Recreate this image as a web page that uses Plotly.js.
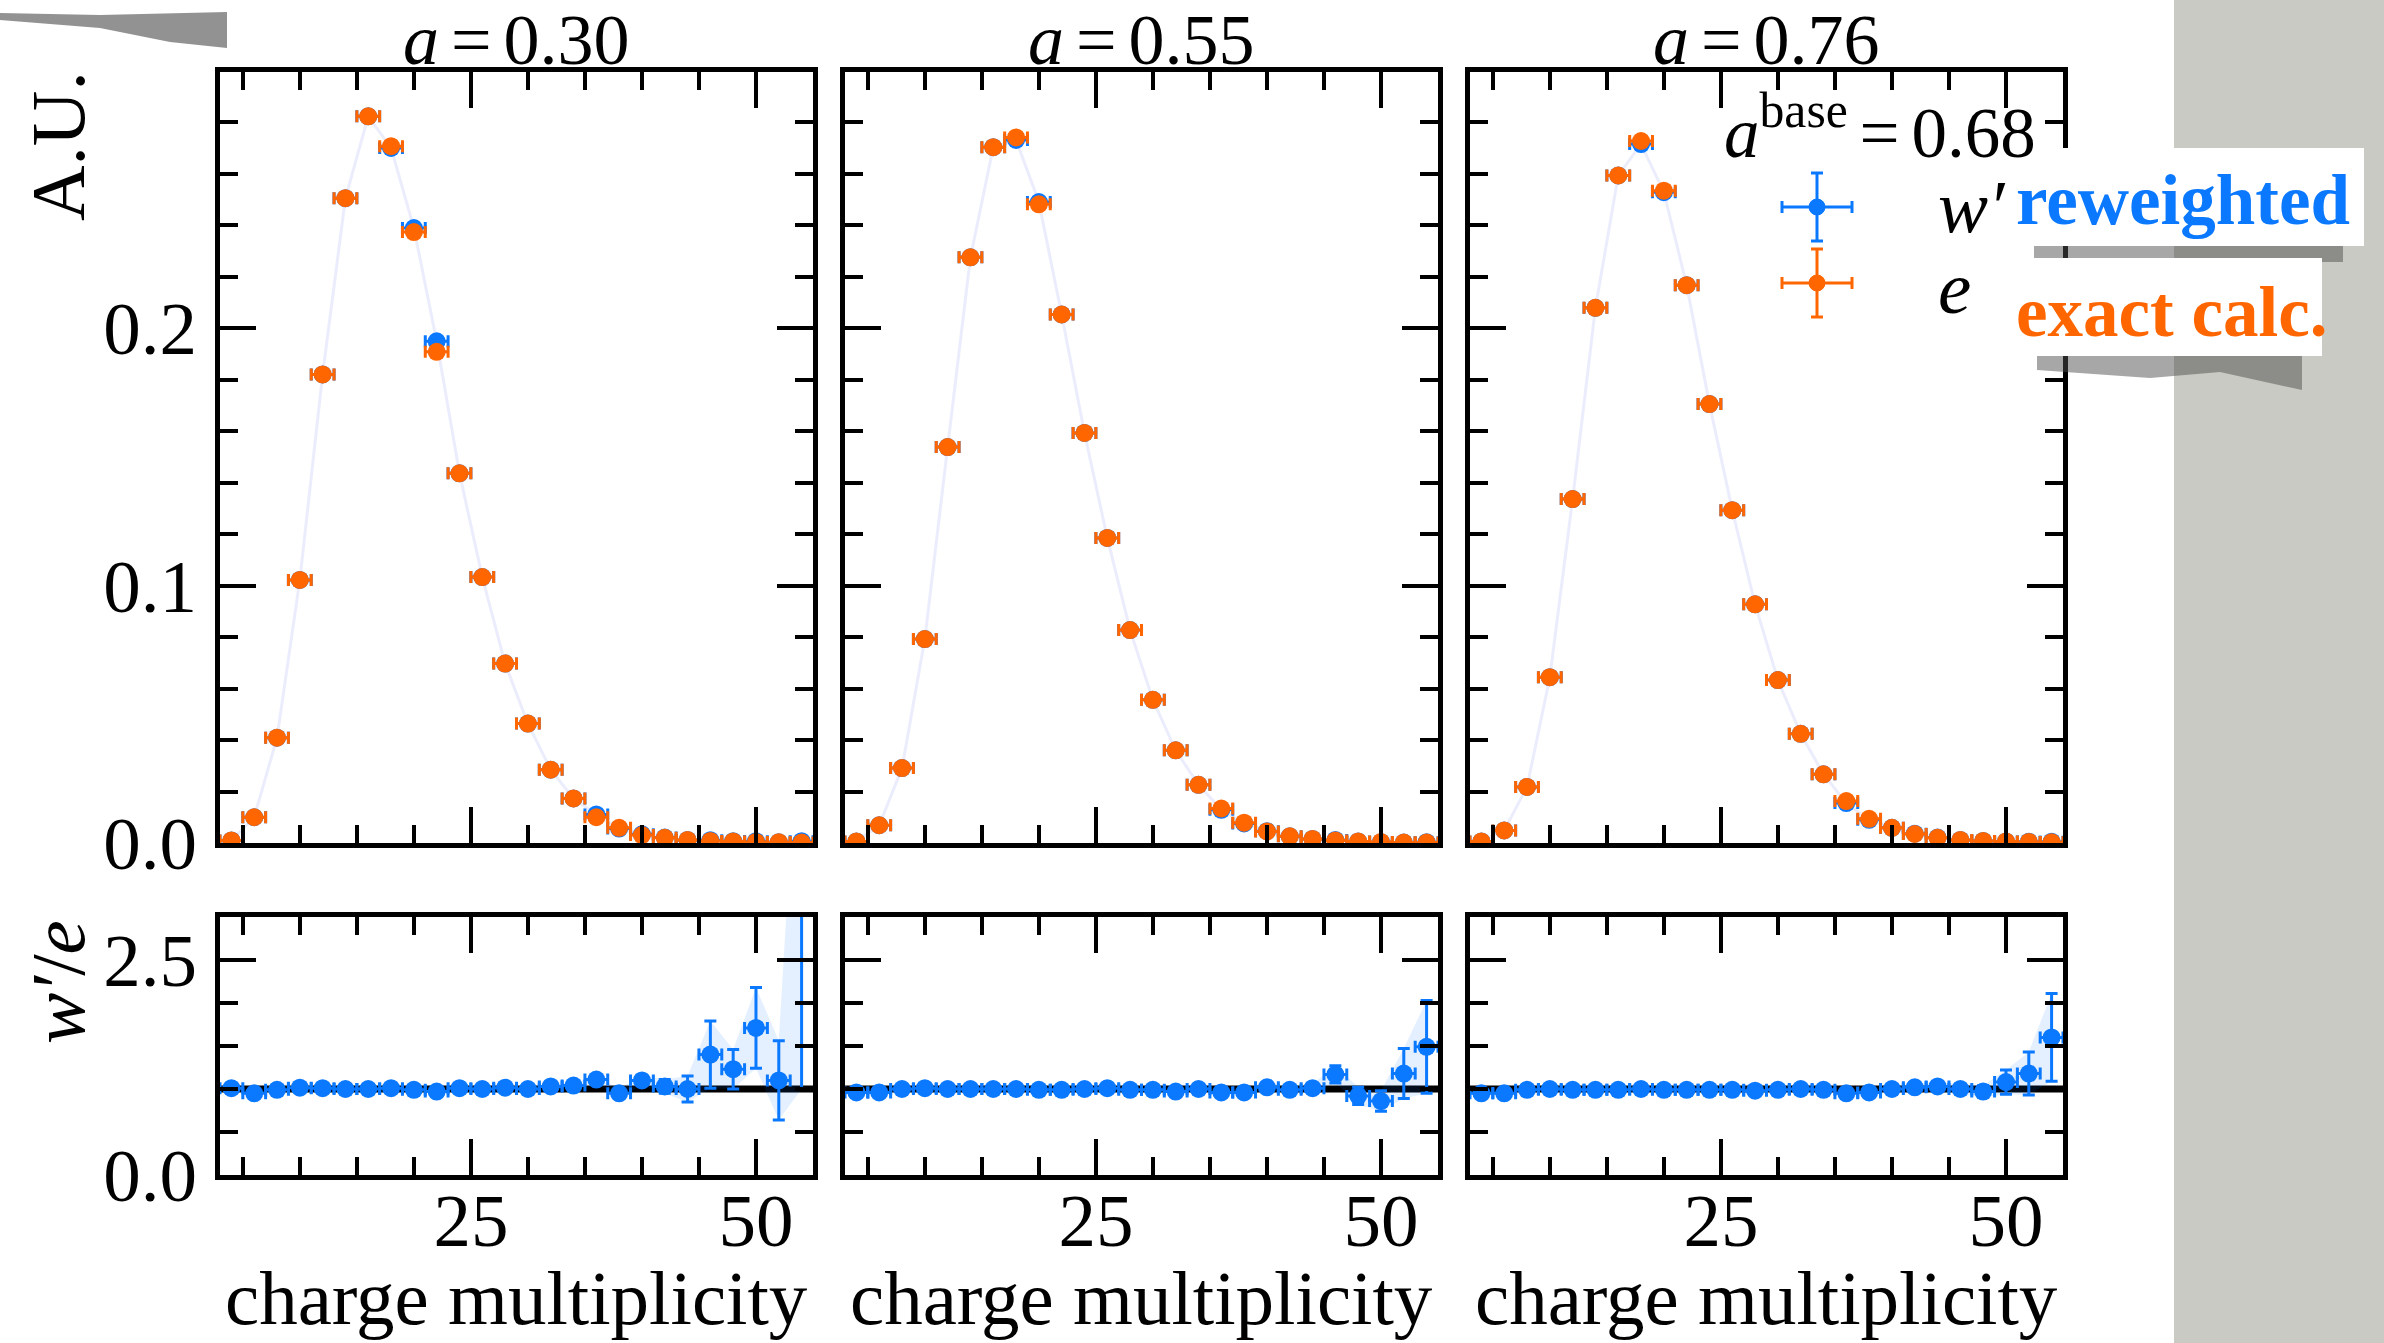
<!DOCTYPE html>
<html>
<head>
<meta charset="utf-8">
<script src="https://cdn.plot.ly/plotly-3.0.1.min.js"></script>
<style>
  html, body { margin: 0; padding: 0; background: #ffffff; }
  #chart { width: 2384px; height: 1343px; }
</style>
</head>
<body>
<div id="chart"></div>
<script>
// ---------------- data ----------------
const multiplicity = [4,6,8,10,12,14,16,18,20,22,24,26,28,30,32,34,36,38,40,42,44,46,48,50,52,54];
const binHalfWidth = 1;

const panelTitles = ["0.30", "0.55", "0.76"];
const baseValue = "0.68";

// exact calculation e
const exact030 = [0.001,0.010,0.0409,0.1022,0.182,0.2505,0.2823,0.2707,0.2373,0.1908,0.1436,0.1033,0.0697,0.0464,0.0285,0.0173,0.010,0.0059,0.0031,0.002,0.0012,0.0008,0.0006,0.0004,0.0003,0.0002];
const exact055 = [0.0006,0.0069,0.0291,0.0792,0.1538,0.2275,0.2703,0.2741,0.2481,0.2053,0.1593,0.1185,0.0827,0.0556,0.036,0.0226,0.0134,0.0079,0.0045,0.0026,0.0016,0.001,0.0006,0.0004,0.0002,0.0002];
const exact076 = [0.0006,0.0049,0.0218,0.0644,0.1336,0.2079,0.2593,0.2727,0.2534,0.2167,0.1705,0.1293,0.0927,0.0633,0.0424,0.0267,0.0163,0.0094,0.0059,0.0035,0.002,0.0012,0.0008,0.0006,0.0004,0.0003];

// reweighted w'
const rew030 = [0.001,0.010,0.0409,0.1022,0.182,0.2505,0.2823,0.2700,0.2389,0.1949,0.1436,0.1033,0.0697,0.0464,0.0285,0.0173,0.0111,0.0056,0.0034,0.0021,0.0012,0.0011,0.0007,0.0007,0.0003,0.0007];
const rew055 = [0.0006,0.0069,0.0291,0.0792,0.1538,0.2275,0.2703,0.2731,0.2490,0.2053,0.1593,0.1185,0.0827,0.0556,0.036,0.0226,0.0129,0.0076,0.0046,0.0026,0.0016,0.0012,0.0006,0.0003,0.0002,0.0003];
const rew076 = [0.0006,0.0049,0.0218,0.0644,0.1336,0.2079,0.2593,0.2715,0.2528,0.2167,0.1705,0.1293,0.0927,0.0633,0.0424,0.0267,0.0155,0.0090,0.0059,0.0036,0.0021,0.0012,0.0008,0.0006,0.0005,0.0005];

// ratio w'/e and its uncertainty
const ratio030 = [1.01,0.95,0.99,1.015,1.01,1.0,1.0,1.01,0.99,0.97,1.01,1.0,1.015,1.0,1.03,1.04,1.11,0.95,1.10,1.03,1.0,1.40,1.23,1.71,1.10,3.5];
const ratioErr030 = [0.03,0.02,0.015,0.01,0.01,0.01,0.01,0.01,0.01,0.01,0.01,0.01,0.015,0.02,0.025,0.03,0.05,0.05,0.06,0.08,0.15,0.39,0.23,0.47,0.46,2.5];
const ratio055 = [0.96,0.96,1.0,1.01,1.0,1.0,1.0,1.0,0.99,0.99,1.0,1.01,0.99,0.99,0.97,1.0,0.96,0.96,1.02,0.99,1.01,1.17,0.92,0.86,1.18,1.49];
const ratioErr055 = [0.03,0.02,0.015,0.01,0.01,0.01,0.01,0.01,0.01,0.01,0.01,0.01,0.01,0.015,0.02,0.02,0.025,0.03,0.03,0.04,0.05,0.10,0.10,0.12,0.29,0.54];
const ratio076 = [0.95,0.95,0.99,1.0,0.99,0.99,0.99,1.0,0.99,0.99,0.99,0.99,0.98,0.99,1.0,0.99,0.95,0.96,1.0,1.02,1.03,1.0,0.97,1.08,1.18,1.60];
const ratioErr076 = [0.03,0.02,0.015,0.01,0.01,0.01,0.01,0.01,0.01,0.01,0.01,0.01,0.01,0.015,0.02,0.02,0.025,0.03,0.03,0.04,0.05,0.06,0.07,0.14,0.25,0.51];

const xTickLabels = ["25", "50"];
const labelW = "reweighted";
const labelE = "exact calc.";

// ---------------- styling / layout ----------------
const W = 2384, H = 1343;
const BLUE = "#0a78ff", ORANGE = "#ff6600";
const FONT = "Liberation Serif, Times New Roman, serif";
const FS = 75;
const px = v => v / W;
const py = v => 1 - v / H;
const EQ = "\u2006=\u2006";

const panelLeft = [220, 845, 1470];
const panelWidth = 593;
const topY = [72, 843];
const botY = [917, 1175];

const exactSets = [exact030, exact055, exact076];
const rewSets = [rew030, rew055, rew076];
const ratioSets = [ratio030, ratio055, ratio076];
const ratioErrSets = [ratioErr030, ratioErr055, ratioErr076];

const traces = [];
const layout = {
  width: W, height: H,
  margin: {l: 0, r: 0, t: 0, b: 0},
  paper_bgcolor: "#ffffff",
  plot_bgcolor: "rgba(0,0,0,0)",
  showlegend: false,
  font: {family: FONT, size: FS, color: "#000"},
  shapes: [], annotations: []
};

function axisBase() {
  return {
    showline: true, linewidth: 5, linecolor: "#000", mirror: "allticks",
    ticks: "inside", ticklen: 36, tickwidth: 4, tickcolor: "#000",
    showgrid: false, zeroline: false, fixedrange: true,
    tickfont: {family: FONT, size: FS, color: "#000"}
  };
}

const hx = Array(multiplicity.length).fill(binHalfWidth);

for (let p = 0; p < 3; p++) {
  const nTop = 2 * p + 1, nBot = 2 * p + 2;
  const xa = "x" + (nTop === 1 ? "" : nTop), ya = "y" + (nTop === 1 ? "" : nTop);
  const xb = "x" + nBot, yb = "y" + nBot;
  const dom = [px(panelLeft[p]), px(panelLeft[p] + panelWidth)];

  const xTop = Object.assign(axisBase(), {
    domain: dom, range: [3, 55], anchor: ya, tick0: 0, dtick: 25,
    showticklabels: false,
    minor: {ticks: "inside", ticklen: 18, tickwidth: 4, tickcolor: "#000", dtick: 5, tick0: 0, showgrid: false}
  });
  const yTop = Object.assign(axisBase(), {
    domain: [py(topY[1]), py(topY[0])], range: [0, 0.2995], anchor: xa,
    tick0: 0, dtick: 0.1, tickformat: ".1f", showticklabels: p === 0, ticklabelstandoff: 3,
    minor: {ticks: "inside", ticklen: 18, tickwidth: 4, tickcolor: "#000", dtick: 0.02, tick0: 0, showgrid: false}
  });
  const xBot = Object.assign(axisBase(), {
    domain: dom, range: [3, 55], anchor: yb, tickvals: [25, 50], ticktext: xTickLabels,
    showticklabels: true, ticklabelstandoff: -24,
    minor: {ticks: "inside", ticklen: 18, tickwidth: 4, tickcolor: "#000", dtick: 5, tick0: 0, showgrid: false}
  });
  const yBot = Object.assign(axisBase(), {
    domain: [py(botY[1]), py(botY[0])], range: [0, 3], anchor: xb,
    tick0: 0, dtick: 2.5, tickformat: ".1f", showticklabels: p === 0, ticklabelstandoff: 3,
    minor: {ticks: "inside", ticklen: 18, tickwidth: 4, tickcolor: "#000", dtick: 0.5, tick0: 0, showgrid: false}
  });
  layout["xaxis" + (nTop === 1 ? "" : nTop)] = xTop;
  layout["yaxis" + (nTop === 1 ? "" : nTop)] = yTop;
  layout["xaxis" + nBot] = xBot;
  layout["yaxis" + nBot] = yBot;

  // top: faint connecting line of w'
  traces.push({x: multiplicity, y: rewSets[p], xaxis: xa, yaxis: ya, mode: "lines",
    line: {color: "rgba(90,110,230,0.12)", width: 3}, hoverinfo: "skip"});
  // top: w' points
  traces.push({x: multiplicity, y: rewSets[p], xaxis: xa, yaxis: ya, mode: "markers",
    marker: {color: BLUE, size: 18},
    error_x: {type: "data", array: hx, color: BLUE, thickness: 3, width: 6}});
  // top: e points
  traces.push({x: multiplicity, y: exactSets[p], xaxis: xa, yaxis: ya, mode: "markers",
    marker: {color: ORANGE, size: 18},
    error_x: {type: "data", array: hx, color: ORANGE, thickness: 3, width: 6}});

  // bottom: band of ratio uncertainty
  const r = ratioSets[p], re = ratioErrSets[p];
  traces.push({x: multiplicity, y: r.map((v, i) => v - re[i]), xaxis: xb, yaxis: yb, mode: "lines",
    line: {width: 0, color: "rgba(0,0,0,0)"}, hoverinfo: "skip"});
  traces.push({x: multiplicity, y: r.map((v, i) => v + re[i]), xaxis: xb, yaxis: yb, mode: "lines",
    line: {width: 0, color: "rgba(0,0,0,0)"}, fill: "tonexty", fillcolor: "rgba(10,120,255,0.11)", hoverinfo: "skip"});
  // bottom: ratio points
  traces.push({x: multiplicity, y: r, xaxis: xb, yaxis: yb, mode: "markers",
    marker: {color: BLUE, size: 18},
    error_x: {type: "data", array: hx, color: BLUE, thickness: 3, width: 6},
    error_y: {type: "data", array: re, color: BLUE, thickness: 3, width: 6}});

  // reference line at 1
  layout.shapes.push({type: "line", layer: "below", xref: xb + " domain", yref: yb,
    x0: 0, x1: 1, y0: 1, y1: 1, line: {color: "#000", width: 7}});

  // panel title
  layout.annotations.push({xref: "paper", yref: "paper", x: px(panelLeft[p] + panelWidth / 2), y: py(40),
    xanchor: "center", yanchor: "middle", showarrow: false, height: 76,
    text: "<i>a</i>" + EQ + panelTitles[p], font: {family: FONT, size: 72, color: "#000"}});
  // x axis title
  layout.annotations.push({xref: "paper", yref: "paper", x: px(panelLeft[p] + panelWidth / 2), y: py(1298),
    xanchor: "center", yanchor: "middle", showarrow: false, height: 86,
    text: "charge multiplicity", font: {family: FONT, size: 77, color: "#000"}});
}

// y-axis titles (top aligned)
layout.annotations.push({xref: "paper", yref: "paper", x: px(58), y: py(146), textangle: -90,
  xanchor: "center", yanchor: "middle", showarrow: false, text: "A.U.",
  font: {family: FONT, size: 77, color: "#000"}});
layout.annotations.push({xref: "paper", yref: "paper", x: px(58), y: py(982), textangle: -90,
  xanchor: "center", yanchor: "middle", showarrow: false, text: "<i>w\u2032</i>/<i>e</i>",
  font: {family: FONT, size: 77, color: "#000"}});

// ---------------- decorations: paper strip, torn labels ----------------
layout.shapes.push({type: "rect", layer: "below", xref: "paper", yref: "paper",
  x0: px(2174), x1: 1, y0: 0, y1: 1, line: {width: 0}, fillcolor: "#c9cac3"});

// torn shadow top-left
layout.shapes.push({type: "path", layer: "below", xref: "paper", yref: "paper",
  path: `M 0 ${py(13)} L ${px(100)} ${py(15)} L ${px(227)} ${py(12)} L ${px(227)} ${py(48)} L ${px(170)} ${py(42)} L ${px(100)} ${py(28)} L 0 ${py(20)} Z`,
  line: {width: 0}, fillcolor: "rgba(100,100,100,0.7)"});

// shadows under labels
layout.shapes.push({type: "rect", layer: "above", xref: "paper", yref: "paper",
  x0: px(2034), x1: px(2343), y0: py(262), y1: py(240), line: {width: 0}, fillcolor: "rgba(80,80,80,0.5)"});
layout.shapes.push({type: "path", layer: "above", xref: "paper", yref: "paper",
  path: `M ${px(2037)} ${py(350)} L ${px(2302)} ${py(350)} L ${px(2302)} ${py(390)} L ${px(2220)} ${py(372)} L ${px(2150)} ${py(378)} L ${px(2037)} ${py(370)} Z`,
  line: {width: 0}, fillcolor: "rgba(80,80,80,0.5)"});
// white label boxes
layout.shapes.push({type: "rect", layer: "above", xref: "paper", yref: "paper",
  x0: px(2010), x1: px(2364), y0: py(246), y1: py(148), line: {width: 0}, fillcolor: "#ffffff"});
layout.shapes.push({type: "rect", layer: "above", xref: "paper", yref: "paper",
  x0: px(2010), x1: px(2322), y0: py(356), y1: py(258), line: {width: 0}, fillcolor: "#ffffff"});

// legend glyphs (error-bar crosses)
function legendGlyph(cx, cy, color) {
  const s = layout.shapes;
  const L = {color: color, width: 3};
  s.push({type: "line", xref: "paper", yref: "paper", x0: px(cx - 35), x1: px(cx + 35), y0: py(cy), y1: py(cy), line: L});
  s.push({type: "line", xref: "paper", yref: "paper", x0: px(cx), x1: px(cx), y0: py(cy - 34), y1: py(cy + 34), line: L});
  s.push({type: "line", xref: "paper", yref: "paper", x0: px(cx - 35), x1: px(cx - 35), y0: py(cy - 6), y1: py(cy + 6), line: L});
  s.push({type: "line", xref: "paper", yref: "paper", x0: px(cx + 35), x1: px(cx + 35), y0: py(cy - 6), y1: py(cy + 6), line: L});
  s.push({type: "line", xref: "paper", yref: "paper", x0: px(cx - 6), x1: px(cx + 6), y0: py(cy - 34), y1: py(cy - 34), line: L});
  s.push({type: "line", xref: "paper", yref: "paper", x0: px(cx - 6), x1: px(cx + 6), y0: py(cy + 34), y1: py(cy + 34), line: L});
  s.push({type: "circle", xref: "paper", yref: "paper", x0: px(cx - 8), x1: px(cx + 8), y0: py(cy + 8), y1: py(cy - 8),
    fillcolor: color, line: {color: color, width: 1}});
}
legendGlyph(1817, 207, BLUE);
legendGlyph(1817, 283, ORANGE);

layout.annotations.push({xref: "paper", yref: "paper", x: px(1722), y: py(128), xanchor: "left", yanchor: "middle",
  showarrow: false, text: "<i>a</i><sup>base</sup>" + EQ + baseValue, font: {family: FONT, size: 71, color: "#000"}});
layout.annotations.push({xref: "paper", yref: "paper", x: px(1936), y: py(207), xanchor: "left", yanchor: "middle",
  showarrow: false, text: "<i>w\u2032</i>", font: {family: FONT, size: FS, color: "#000"}});
layout.annotations.push({xref: "paper", yref: "paper", x: px(1936), y: py(287), xanchor: "left", yanchor: "middle",
  showarrow: false, text: "<i>e</i>", font: {family: FONT, size: FS, color: "#000"}});
layout.annotations.push({xref: "paper", yref: "paper", x: px(2014), y: py(200), xanchor: "left", yanchor: "middle",
  showarrow: false, text: "<b>" + labelW + "</b>", font: {family: FONT, size: 71, color: BLUE}});
layout.annotations.push({xref: "paper", yref: "paper", x: px(2014), y: py(312), xanchor: "left", yanchor: "middle",
  showarrow: false, text: "<b>" + labelE + "</b>", font: {family: FONT, size: 71, color: ORANGE}});

Plotly.newPlot("chart", traces, layout, {displayModeBar: false, staticPlot: true});
</script>
</body>
</html>
